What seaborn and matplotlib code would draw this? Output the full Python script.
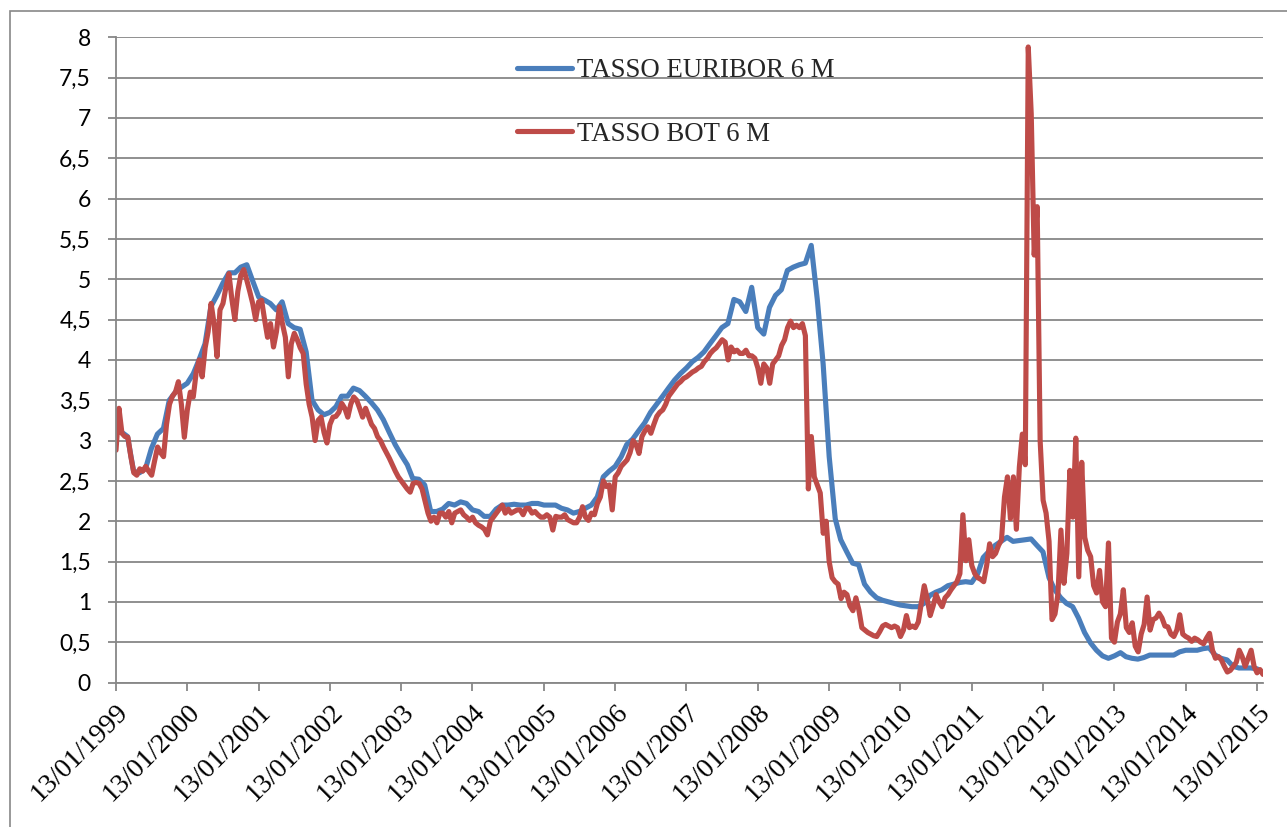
import numpy as np
import pandas as pd
import matplotlib
matplotlib.use("Agg")
import matplotlib.pyplot as plt
from matplotlib.patches import Rectangle
import seaborn as sns

# ---- data -------------------------------------------------------------
series_labels = ["TASSO EURIBOR 6 M", "TASSO BOT 6 M"]
first_date = "1999-01-13"
last_date = "2015-02-13"

# 6-month Euribor, one value per month (13th of each month)
euribor_6m = [
    # 1999
    3.13, 3.10, 3.05, 2.62, 2.60, 2.65, 2.90, 3.08, 3.15, 3.50, 3.60, 3.66,
    # 2000
    3.71, 3.83, 4.00, 4.20, 4.66, 4.80, 4.95, 5.08, 5.08, 5.15, 5.18, 4.98,
    # 2001
    4.78, 4.74, 4.70, 4.62, 4.72, 4.45, 4.40, 4.38, 4.10, 3.50, 3.38, 3.32,
    # 2002
    3.35, 3.42, 3.55, 3.55, 3.65, 3.62, 3.55, 3.47, 3.38, 3.26, 3.10, 2.95,
    # 2003
    2.82, 2.70, 2.53, 2.52, 2.45, 2.12, 2.12, 2.15, 2.22, 2.20, 2.24, 2.22,
    # 2004
    2.14, 2.12, 2.06, 2.06, 2.15, 2.20, 2.20, 2.21, 2.20, 2.20, 2.22, 2.22,
    # 2005
    2.20, 2.20, 2.20, 2.16, 2.14, 2.10, 2.12, 2.16, 2.20, 2.30, 2.55, 2.62,
    # 2006
    2.68, 2.80, 2.95, 3.02, 3.12, 3.22, 3.35, 3.45, 3.55, 3.65, 3.75, 3.83,
    # 2007
    3.90, 3.98, 4.03, 4.10, 4.20, 4.30, 4.40, 4.45, 4.75, 4.72, 4.60, 4.90,
    # 2008
    4.40, 4.32, 4.65, 4.80, 4.87, 5.11, 5.15, 5.18, 5.20, 5.42, 4.75, 3.95,
    # 2009
    2.80, 2.03, 1.77, 1.62, 1.48, 1.46, 1.22, 1.12, 1.05, 1.02, 1.00, 0.98,
    # 2010
    0.96, 0.95, 0.94, 0.94, 0.98, 1.08, 1.12, 1.15, 1.20, 1.22, 1.24, 1.25,
    # 2011
    1.24, 1.35, 1.55, 1.63, 1.70, 1.75, 1.80, 1.75, 1.76, 1.77, 1.78, 1.70,
    # 2012
    1.62, 1.30, 1.15, 1.05, 0.98, 0.94, 0.80, 0.62, 0.49, 0.40, 0.33, 0.30,
    # 2013
    0.33, 0.37, 0.32, 0.30, 0.29, 0.31, 0.34, 0.34, 0.34, 0.34, 0.34, 0.38,
    # 2014
    0.40, 0.40, 0.40, 0.42, 0.43, 0.34, 0.30, 0.28, 0.20, 0.18, 0.18, 0.18,
    # 2015
    0.17, 0.12,
]

# 6-month BOT yield, two values per month
bot_6m = [
    # 1999
    2.88, 3.40, 3.09, 3.05, 3.04, 2.80, 2.60, 2.57, 2.65, 2.62, 2.68, 2.62,
    2.57, 2.75, 2.92, 2.85, 2.80, 3.20, 3.45, 3.55, 3.60, 3.73, 3.45, 3.04,
    # 2000
    3.38, 3.60, 3.54, 3.85, 4.00, 3.79, 4.15, 4.35, 4.70, 4.45, 4.04, 4.62,
    4.70, 4.90, 5.07, 4.75, 4.50, 4.85, 5.05, 5.12, 4.99, 4.85, 4.70, 4.50,
    # 2001
    4.72, 4.74, 4.50, 4.28, 4.45, 4.16, 4.35, 4.66, 4.45, 4.28, 3.79, 4.20,
    4.33, 4.25, 4.15, 4.08, 3.70, 3.45, 3.29, 3.00, 3.25, 3.29, 3.10, 2.97,
    # 2002
    3.20, 3.29, 3.30, 3.35, 3.46, 3.40, 3.29, 3.45, 3.54, 3.50, 3.40, 3.29,
    3.40, 3.30, 3.20, 3.15, 3.05, 3.00, 2.92, 2.85, 2.78, 2.70, 2.62, 2.55,
    # 2003
    2.50, 2.45, 2.40, 2.36, 2.47, 2.48, 2.47, 2.40, 2.25, 2.10, 2.00, 2.05,
    1.98, 2.10, 2.10, 2.05, 2.12, 1.98, 2.10, 2.12, 2.14, 2.08, 2.05, 2.01,
    # 2004
    2.05, 1.98, 1.95, 1.93, 1.90, 1.83, 2.00, 2.05, 2.10, 2.15, 2.20, 2.10,
    2.15, 2.10, 2.12, 2.14, 2.14, 2.08, 2.16, 2.16, 2.10, 2.12, 2.08, 2.05,
    # 2005
    2.05, 2.08, 2.05, 1.89, 2.06, 2.05, 2.05, 2.08, 2.02, 2.00, 1.98, 1.98,
    2.05, 2.18, 2.05, 2.01, 2.10, 2.08, 2.22, 2.30, 2.50, 2.43, 2.45, 2.14,
    # 2006
    2.55, 2.60, 2.68, 2.72, 2.76, 2.85, 3.00, 2.95, 2.84, 3.05, 3.12, 3.17,
    3.09, 3.20, 3.30, 3.35, 3.38, 3.45, 3.55, 3.60, 3.65, 3.70, 3.73, 3.77,
    # 2007
    3.79, 3.82, 3.85, 3.87, 3.90, 3.92, 3.98, 4.02, 4.08, 4.12, 4.15, 4.20,
    4.25, 4.22, 4.00, 4.16, 4.10, 4.12, 4.08, 4.08, 4.12, 4.05, 4.05, 4.02,
    # 2008
    3.90, 3.71, 3.95, 3.90, 3.71, 3.95, 4.00, 4.05, 4.18, 4.25, 4.40, 4.48,
    4.40, 4.43, 4.40, 4.45, 4.30, 2.40, 3.05, 2.55, 2.45, 2.35, 1.85, 2.00,
    # 2009
    1.50, 1.30, 1.25, 1.22, 1.04, 1.12, 1.09, 0.95, 0.89, 1.05, 0.90, 0.68,
    0.65, 0.62, 0.60, 0.58, 0.57, 0.63, 0.70, 0.72, 0.70, 0.68, 0.70, 0.68,
    # 2010
    0.57, 0.65, 0.83, 0.68, 0.70, 0.68, 0.75, 0.98, 1.20, 1.04, 0.83, 0.95,
    1.09, 1.00, 0.94, 1.05, 1.09, 1.15, 1.20, 1.25, 1.35, 2.08, 1.51, 1.77,
    # 2011
    1.45, 1.35, 1.30, 1.28, 1.25, 1.45, 1.72, 1.56, 1.60, 1.70, 1.77, 2.30,
    2.55, 2.03, 2.55, 1.90, 2.67, 3.08, 2.70, 7.88, 7.05, 5.30, 5.90, 3.00,
    # 2012
    2.26, 2.10, 1.75, 0.78, 0.85, 1.10, 1.89, 1.23, 1.60, 2.63, 2.05, 3.03,
    1.31, 2.73, 1.80, 1.64, 1.56, 1.20, 1.11, 1.39, 1.00, 0.94, 1.73, 0.55,
    # 2013
    0.50, 0.75, 0.85, 1.15, 0.68, 0.62, 0.74, 0.45, 0.38, 0.60, 0.72, 1.06,
    0.65, 0.78, 0.80, 0.86, 0.80, 0.70, 0.69, 0.60, 0.57, 0.65, 0.84, 0.60,
    # 2014
    0.57, 0.55, 0.51, 0.55, 0.53, 0.50, 0.48, 0.55, 0.61, 0.40, 0.30, 0.32,
    0.28, 0.20, 0.13, 0.15, 0.20, 0.25, 0.40, 0.32, 0.20, 0.30, 0.40, 0.20,
    # 2015
    0.12, 0.16, 0.10,
]

y_ticks = np.arange(0, 8.01, 0.5)
y_tick_labels = [f"{v:g}".replace(".", ",") for v in y_ticks]
year_ticks = pd.date_range(first_date, "2015-01-13", freq=pd.DateOffset(years=1))
x_tick_labels = [d.strftime("%d/%m/%Y") for d in year_ticks]

euribor_dates = pd.date_range(first_date, periods=len(euribor_6m),
                              freq=pd.DateOffset(months=1))
bot_dates = pd.date_range(first_date, last_date, periods=len(bot_6m))

# ---- style ------------------------------------------------------------
sns.set_style("white")
plt.rcParams["font.family"] = ["Liberation Serif", "DejaVu Serif"]

BLUE = "#4A7EBB"
RED = "#BE4B48"
GRID = "#878787"
LW = 3.7

W, H = 1287, 827
fig = plt.figure(figsize=(W / 100, H / 100), dpi=100)
ax = fig.add_axes([116 / W, 1 - 682.5 / H, (1263 - 116) / W, (682.5 - 37.3) / H])

line_kw = dict(linewidth=LW, solid_joinstyle="round", solid_capstyle="round")
sns.lineplot(x=euribor_dates, y=euribor_6m, ax=ax, color=BLUE,
             label=series_labels[0], **line_kw)
sns.lineplot(x=bot_dates, y=bot_6m, ax=ax, color=RED,
             label=series_labels[1], **line_kw)

ax.set_xlim(pd.Timestamp(first_date), pd.Timestamp(last_date))
ax.set_ylim(0, 8)
ax.set_yticks(y_ticks)
ax.set_yticklabels(y_tick_labels, fontfamily="Lato", fontsize=16.5)
ax.set_xticks(year_ticks)
ax.set_xticklabels(x_tick_labels, fontfamily="Liberation Serif", fontsize=20,
                   rotation=45, ha="right", rotation_mode="anchor")
ax.set_xlabel("")
ax.set_ylabel("")

ax.yaxis.grid(True, color=GRID, linewidth=1.3)
ax.xaxis.grid(False)
ax.set_axisbelow(True)

for side in ("top", "right"):
    ax.spines[side].set_visible(False)
for side in ("left", "bottom"):
    ax.spines[side].set_color(GRID)
    ax.spines[side].set_linewidth(1.3)

ax.tick_params(axis="y", direction="out", length=6, width=1.3, color=GRID,
               pad=12, labelcolor="black", left=True)
ax.tick_params(axis="x", direction="out", length=6, width=1.3, color=GRID,
               pad=6, labelcolor="black", bottom=True)

leg = ax.legend(loc="upper left", bbox_to_anchor=(517 / W, 1 - 58 / H),
                bbox_transform=fig.transFigure, frameon=False,
                prop={"family": "Liberation Serif", "size": 19.3},
                borderpad=0, borderaxespad=0, handlelength=2.05,
                handletextpad=0.2, labelspacing=1.45)
for h in leg.get_lines():
    h.set_linewidth(LW)
    h.set_solid_capstyle("round")

# outer chart frame
fig.add_artist(Rectangle((10 / W, -0.5), 2.0, 1 - 11 / H + 0.5,
                         transform=fig.transFigure, fill=False,
                         edgecolor=GRID, linewidth=1.2))

fig.savefig("out.png", dpi=100, facecolor="white")
